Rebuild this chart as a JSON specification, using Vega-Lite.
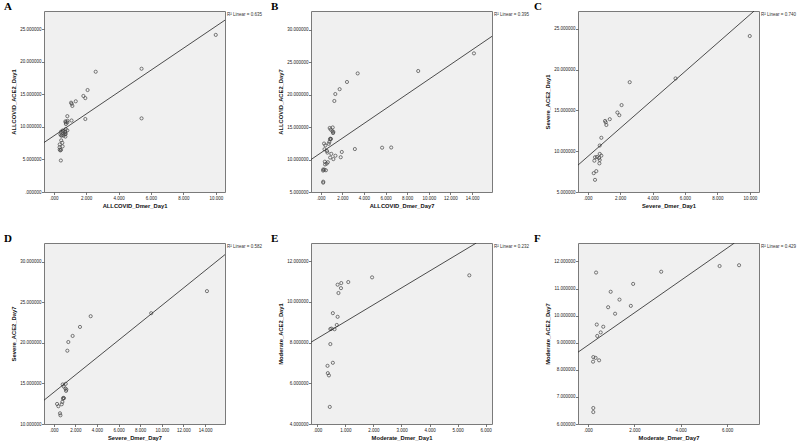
{
 "$schema": "https://vega.github.io/schema/vega-lite/v6.json",
 "background": "white",
 "padding": {"left": 3, "top": 0, "right": 0, "bottom": 0},
 "bounds": "flush",
 "columns": 3,
 "spacing": {"row": 51, "column": 86},
 "datasets": {
  "A": [{"x":10.0,"y":24.13},{"x":5.42,"y":18.93},{"x":2.59,"y":18.47},{"x":2.09,"y":15.66},{"x":1.83,"y":14.75},{"x":1.95,"y":14.42},{"x":1.36,"y":13.93},{"x":1.07,"y":13.72},{"x":1.11,"y":13.55},{"x":1.15,"y":13.22},{"x":0.84,"y":11.65},{"x":0.74,"y":10.70},{"x":0.74,"y":9.67},{"x":0.84,"y":9.46},{"x":0.57,"y":9.30},{"x":0.45,"y":9.26},{"x":0.70,"y":9.17},{"x":0.41,"y":8.84},{"x":0.74,"y":8.93},{"x":0.72,"y":8.51},{"x":0.37,"y":7.31},{"x":0.53,"y":7.56},{"x":0.45,"y":6.49},
        {"x":5.42,"y":11.31},{"x":1.95,"y":11.21},{"x":1.1,"y":10.98},{"x":0.85,"y":10.93},{"x":0.72,"y":10.85},{"x":0.84,"y":10.68},{"x":0.75,"y":10.44},{"x":0.55,"y":9.45},{"x":0.72,"y":9.27},{"x":0.69,"y":8.87},{"x":0.46,"y":8.67},{"x":0.50,"y":8.69},{"x":0.61,"y":8.66},{"x":0.46,"y":7.93},{"x":0.55,"y":7.01},{"x":0.36,"y":6.86},{"x":0.37,"y":6.50},{"x":0.41,"y":6.39},{"x":0.44,"y":4.84}],
  "B": [{"x":14.18,"y":26.37},{"x":9.02,"y":23.65},{"x":3.42,"y":23.28},{"x":2.43,"y":21.96},{"x":1.75,"y":20.85},{"x":1.35,"y":20.10},{"x":1.26,"y":19.03},{"x":0.83,"y":14.87},{"x":1.11,"y":14.95},{"x":0.92,"y":14.62},{"x":1.08,"y":14.37},{"x":1.17,"y":14.25},{"x":1.14,"y":14.08},{"x":0.89,"y":13.22},{"x":0.95,"y":13.18},{"x":0.86,"y":13.12},{"x":0.80,"y":12.72},{"x":0.31,"y":12.47},{"x":0.43,"y":12.19},{"x":0.74,"y":12.43},{"x":0.58,"y":11.32},{"x":0.62,"y":11.07},
        {"x":6.52,"y":11.86},{"x":5.68,"y":11.83},{"x":3.16,"y":11.62},{"x":0.35,"y":11.59},{"x":1.95,"y":11.17},{"x":0.98,"y":10.88},{"x":1.36,"y":10.59},{"x":0.87,"y":10.31},{"x":1.85,"y":10.36},{"x":1.17,"y":10.07},{"x":0.38,"y":9.67},{"x":0.66,"y":9.59},{"x":0.55,"y":9.38},{"x":0.40,"y":9.25},{"x":0.23,"y":8.47},{"x":0.33,"y":8.44},{"x":0.22,"y":8.30},{"x":0.48,"y":8.35},{"x":0.23,"y":6.59},{"x":0.23,"y":6.44}],
  "C": [{"x":10.0,"y":24.13},{"x":5.42,"y":18.93},{"x":2.59,"y":18.47},{"x":2.09,"y":15.66},{"x":1.83,"y":14.75},{"x":1.95,"y":14.42},{"x":1.36,"y":13.93},{"x":1.07,"y":13.72},{"x":1.11,"y":13.55},{"x":1.15,"y":13.22},{"x":0.84,"y":11.65},{"x":0.74,"y":10.70},{"x":0.74,"y":9.67},{"x":0.84,"y":9.46},{"x":0.57,"y":9.30},{"x":0.45,"y":9.26},{"x":0.70,"y":9.17},{"x":0.41,"y":8.84},{"x":0.74,"y":8.93},{"x":0.72,"y":8.51},{"x":0.37,"y":7.31},{"x":0.53,"y":7.56},{"x":0.45,"y":6.49}],
  "D": [{"x":14.18,"y":26.37},{"x":9.02,"y":23.65},{"x":3.42,"y":23.28},{"x":2.43,"y":21.96},{"x":1.75,"y":20.85},{"x":1.35,"y":20.10},{"x":1.26,"y":19.03},{"x":0.83,"y":14.87},{"x":1.11,"y":14.95},{"x":0.92,"y":14.62},{"x":1.08,"y":14.37},{"x":1.17,"y":14.25},{"x":1.14,"y":14.08},{"x":0.89,"y":13.22},{"x":0.95,"y":13.18},{"x":0.86,"y":13.12},{"x":0.80,"y":12.72},{"x":0.31,"y":12.47},{"x":0.43,"y":12.19},{"x":0.74,"y":12.43},{"x":0.58,"y":11.32},{"x":0.62,"y":11.07}],
  "E": [{"x":5.42,"y":11.31},{"x":1.95,"y":11.21},{"x":1.1,"y":10.98},{"x":0.85,"y":10.93},{"x":0.72,"y":10.85},{"x":0.84,"y":10.68},{"x":0.75,"y":10.44},{"x":0.55,"y":9.45},{"x":0.72,"y":9.27},{"x":0.69,"y":8.87},{"x":0.46,"y":8.67},{"x":0.50,"y":8.69},{"x":0.61,"y":8.66},{"x":0.46,"y":7.93},{"x":0.55,"y":7.01},{"x":0.36,"y":6.86},{"x":0.37,"y":6.50},{"x":0.41,"y":6.39},{"x":0.44,"y":4.84}],
  "F": [{"x":6.52,"y":11.86},{"x":5.68,"y":11.83},{"x":3.16,"y":11.62},{"x":0.35,"y":11.59},{"x":1.95,"y":11.17},{"x":0.98,"y":10.88},{"x":1.36,"y":10.59},{"x":0.87,"y":10.31},{"x":1.85,"y":10.36},{"x":1.17,"y":10.07},{"x":0.38,"y":9.67},{"x":0.66,"y":9.59},{"x":0.55,"y":9.38},{"x":0.40,"y":9.25},{"x":0.23,"y":8.47},{"x":0.33,"y":8.44},{"x":0.22,"y":8.30},{"x":0.48,"y":8.35},{"x":0.23,"y":6.59},{"x":0.23,"y":6.44}],
  "lineA": [{"x":-0.6,"y":7.6},{"x":10.57,"y":26.4}],
  "lineB": [{"x":-0.9,"y":10.0},{"x":15.85,"y":29.0}],
  "lineC": [{"x":-0.6,"y":8.3},{"x":10.27,"y":27.2}],
  "lineD": [{"x":-0.9,"y":12.93},{"x":15.85,"y":30.87}],
  "lineE": [{"x":-0.23,"y":8.02},{"x":5.67,"y":12.9}],
  "lineF": [{"x":-0.43,"y":8.65},{"x":6.32,"y":12.68}]
 },
 "concat": [
  {"width": 181, "height": 181, "title": {"text": "A", "dx": -40},
   "encoding": {
    "x": {"field": "x", "type": "quantitative", "title": "ALLCOVID_Dmer_Day1", "scale": {"domain": [-0.6, 10.57], "nice": false, "zero": false}, "axis": {"values": [0,2,4,6,8,10], "labelOverlap": false, "labelExpr": "datum.value == 0 ? '.000' : format(datum.value, '.3f')"}},
    "y": {"field": "y", "type": "quantitative", "title": "ALLCOVID_ACE2_Day1", "scale": {"domain": [0, 27.8], "nice": false, "zero": false}, "axis": {"values": [0,5,10,15,20,25], "labelOverlap": false, "labelExpr": "datum.value == 0 ? '.000000' : format(datum.value, '.6f')"}}},
   "layer": [
    {"data": {"name": "A"}, "mark": {"type": "point", "shape": "circle", "filled": false, "size": 10, "stroke": "#444", "strokeWidth": 0.7, "opacity": 1}},
    {"data": {"name": "lineA"}, "mark": {"type": "line", "clip": true, "color": "#222", "strokeWidth": 0.8}},
    {"data": {"values": [{"label": "R² Linear = 0.635", "x": 10.57, "y": 27.8}]}, "mark": {"type": "text", "align": "left", "baseline": "middle", "dx": 2, "dy": 4, "fontSize": 4.5, "font": "Liberation Sans", "color": "#333"},
     "encoding": {"text": {"field": "label"}}}
   ]},
  {"width": 181, "height": 181, "title": {"text": "B", "dx": -40},
   "encoding": {
    "x": {"field": "x", "type": "quantitative", "title": "ALLCOVID_Dmer_Day7", "scale": {"domain": [-0.9, 15.85], "nice": false, "zero": false}, "axis": {"values": [0,2,4,6,8,10,12,14], "labelOverlap": false, "labelExpr": "datum.value == 0 ? '.000' : format(datum.value, '.3f')"}},
    "y": {"field": "y", "type": "quantitative", "title": "ALLCOVID_ACE2_Day7", "scale": {"domain": [5, 32.9], "nice": false, "zero": false}, "axis": {"values": [5,10,15,20,25,30], "labelOverlap": false, "labelExpr": "format(datum.value, '.6f')"}}},
   "layer": [
    {"data": {"name": "B"}, "mark": {"type": "point", "shape": "circle", "filled": false, "size": 10, "stroke": "#444", "strokeWidth": 0.7, "opacity": 1}},
    {"data": {"name": "lineB"}, "mark": {"type": "line", "clip": true, "color": "#222", "strokeWidth": 0.8}},
    {"data": {"values": [{"label": "R² Linear = 0.395", "x": 15.85, "y": 32.9}]}, "mark": {"type": "text", "align": "left", "baseline": "middle", "dx": 2, "dy": 4, "fontSize": 4.5, "font": "Liberation Sans", "color": "#333"},
     "encoding": {"text": {"field": "label"}}}
   ]},
  {"width": 181, "height": 181, "title": {"text": "C", "dx": -44},
   "encoding": {
    "x": {"field": "x", "type": "quantitative", "title": "Severe_Dmer_Day1", "scale": {"domain": [-0.6, 10.57], "nice": false, "zero": false}, "axis": {"values": [0,2,4,6,8,10], "labelOverlap": false, "labelExpr": "datum.value == 0 ? '.000' : format(datum.value, '.3f')"}},
    "y": {"field": "y", "type": "quantitative", "title": "Severe_ACE2_Day1", "scale": {"domain": [5, 27.2], "nice": false, "zero": false}, "axis": {"values": [5,10,15,20,25], "labelOverlap": false, "labelExpr": "format(datum.value, '.6f')"}}},
   "layer": [
    {"data": {"name": "C"}, "mark": {"type": "point", "shape": "circle", "filled": false, "size": 10, "stroke": "#444", "strokeWidth": 0.7, "opacity": 1}},
    {"data": {"name": "lineC"}, "mark": {"type": "line", "clip": true, "color": "#222", "strokeWidth": 0.8}},
    {"data": {"values": [{"label": "R² Linear = 0.740", "x": 10.57, "y": 27.2}]}, "mark": {"type": "text", "align": "left", "baseline": "middle", "dx": 2, "dy": 4, "fontSize": 4.5, "font": "Liberation Sans", "color": "#333"},
     "encoding": {"text": {"field": "label"}}}
   ]},
  {"width": 181, "height": 181, "title": {"text": "D", "dx": -40},
   "encoding": {
    "x": {"field": "x", "type": "quantitative", "title": "Severe_Dmer_Day7", "scale": {"domain": [-0.9, 15.85], "nice": false, "zero": false}, "axis": {"values": [0,2,4,6,8,10,12,14], "labelOverlap": false, "labelExpr": "datum.value == 0 ? '.000' : format(datum.value, '.3f')"}},
    "y": {"field": "y", "type": "quantitative", "title": "Severe_ACE2_Day7", "scale": {"domain": [10, 32.3], "nice": false, "zero": false}, "axis": {"values": [10,15,20,25,30], "labelOverlap": false, "labelExpr": "format(datum.value, '.6f')"}}},
   "layer": [
    {"data": {"name": "D"}, "mark": {"type": "point", "shape": "circle", "filled": false, "size": 10, "stroke": "#444", "strokeWidth": 0.7, "opacity": 1}},
    {"data": {"name": "lineD"}, "mark": {"type": "line", "clip": true, "color": "#222", "strokeWidth": 0.8}},
    {"data": {"values": [{"label": "R² Linear = 0.582", "x": 15.85, "y": 32.3}]}, "mark": {"type": "text", "align": "left", "baseline": "middle", "dx": 2, "dy": 4, "fontSize": 4.5, "font": "Liberation Sans", "color": "#333"},
     "encoding": {"text": {"field": "label"}}}
   ]},
  {"width": 181, "height": 181, "title": {"text": "E", "dx": -40},
   "encoding": {
    "x": {"field": "x", "type": "quantitative", "title": "Moderate_Dmer_Day1", "scale": {"domain": [-0.23, 6.23], "nice": false, "zero": false}, "axis": {"values": [0,1,2,3,4,5,6], "labelOverlap": false, "labelExpr": "datum.value == 0 ? '.000' : format(datum.value, '.3f')"}},
    "y": {"field": "y", "type": "quantitative", "title": "Moderate_ACE2_Day1", "scale": {"domain": [4, 12.9], "nice": false, "zero": false}, "axis": {"values": [4,6,8,10,12], "labelOverlap": false, "labelExpr": "format(datum.value, '.6f')"}}},
   "layer": [
    {"data": {"name": "E"}, "mark": {"type": "point", "shape": "circle", "filled": false, "size": 10, "stroke": "#444", "strokeWidth": 0.7, "opacity": 1}},
    {"data": {"name": "lineE"}, "mark": {"type": "line", "clip": true, "color": "#222", "strokeWidth": 0.8}},
    {"data": {"values": [{"label": "R² Linear = 0.232", "x": 6.23, "y": 12.9}]}, "mark": {"type": "text", "align": "left", "baseline": "middle", "dx": 2, "dy": 4, "fontSize": 4.5, "font": "Liberation Sans", "color": "#333"},
     "encoding": {"text": {"field": "label"}}}
   ]},
  {"width": 181, "height": 181, "title": {"text": "F", "dx": -44},
   "encoding": {
    "x": {"field": "x", "type": "quantitative", "title": "Moderate_Dmer_Day7", "scale": {"domain": [-0.43, 7.38], "nice": false, "zero": false}, "axis": {"values": [0,2,4,6], "labelOverlap": false, "labelExpr": "datum.value == 0 ? '.000' : format(datum.value, '.3f')"}},
    "y": {"field": "y", "type": "quantitative", "title": "Moderate_ACE2_Day7", "scale": {"domain": [6, 12.68], "nice": false, "zero": false}, "axis": {"values": [6,7,8,9,10,11,12], "labelOverlap": false, "labelExpr": "format(datum.value, '.6f')"}}},
   "layer": [
    {"data": {"name": "F"}, "mark": {"type": "point", "shape": "circle", "filled": false, "size": 10, "stroke": "#444", "strokeWidth": 0.7, "opacity": 1}},
    {"data": {"name": "lineF"}, "mark": {"type": "line", "clip": true, "color": "#222", "strokeWidth": 0.8}},
    {"data": {"values": [{"label": "R² Linear = 0.429", "x": 7.38, "y": 12.68}]}, "mark": {"type": "text", "align": "left", "baseline": "middle", "dx": 2, "dy": 4, "fontSize": 4.5, "font": "Liberation Sans", "color": "#333"},
     "encoding": {"text": {"field": "label"}}}
   ]}
 ],
 "config": {
  "view": {"fill": "#f0f0f0", "stroke": "#7a7a7a", "strokeWidth": 1},
  "axis": {"domain": false, "grid": false, "ticks": true, "tickSize": 2.5, "tickColor": "#555", "tickWidth": 0.8, "labelFont": "Liberation Sans", "labelFontSize": 4.5, "labelColor": "#222", "labelPadding": 0.5, "labelOverlap": false, "labelFlush": false, "labelBound": false, "titleFont": "Liberation Sans", "titleFontSize": 5.8, "titleFontWeight": "bold", "titleColor": "#111"},
  "axisX": {"titlePadding": 3},
  "axisY": {"minExtent": 24, "maxExtent": 24, "titlePadding": 3.7},
  "title": {"font": "Liberation Serif", "fontSize": 11, "fontWeight": "bold", "anchor": "start", "frame": "group", "offset": 0, "baseline": "alphabetic", "dy": 5, "color": "#000"}
 }
}
